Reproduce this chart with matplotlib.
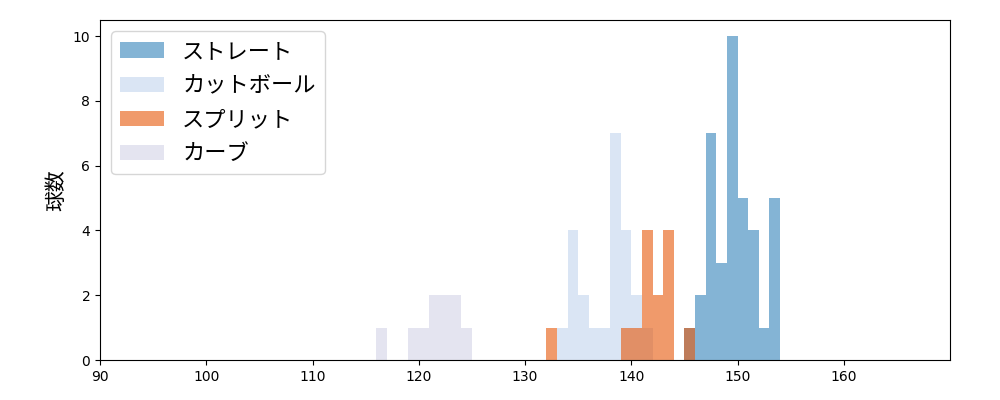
import matplotlib
matplotlib.use('Agg')
import matplotlib.pyplot as plt

plt.rcParams['font.family'] = ['DejaVu Sans', 'Noto Sans CJK JP']

# 球種ごとの球速ヒストグラム (ビン開始値, 球数)
straight_bins = [145, 146, 147, 148, 149, 150, 151, 152, 153]
straight_counts = [1, 2, 7, 3, 10, 5, 4, 1, 5]
cutter_bins = [133, 134, 135, 136, 137, 138, 139, 140, 141]
cutter_counts = [1, 4, 2, 1, 1, 7, 4, 2, 1]
split_bins = [132, 139, 140, 141, 142, 143, 145]
split_counts = [1, 1, 1, 4, 2, 4, 1]
curve_bins = [116, 119, 120, 121, 122, 123, 124]
curve_counts = [1, 1, 1, 2, 2, 2, 1]

labels = ['ストレート', 'カットボール', 'スプリット', 'カーブ']

fig, ax = plt.subplots(figsize=(10, 4), dpi=100)
ax.bar(straight_bins, straight_counts, width=1, align='edge', color='#1f77b4', alpha=0.55, label=labels[0])
ax.bar(cutter_bins, cutter_counts, width=1, align='edge', color='#aec7e8', alpha=0.45, label=labels[1])
ax.bar(split_bins, split_counts, width=1, align='edge', color='#e65708', alpha=0.6, label=labels[2])
ax.bar(curve_bins, curve_counts, width=1, align='edge', color='#c5c5df', alpha=0.45, label=labels[3])

ax.set_xlim(90, 170)
ax.set_xticks(range(90, 170, 10))
ax.set_ylim(0, 10.5)
ax.set_yticks(range(0, 11, 2))
ax.set_ylabel('球数', fontsize=15, family=['Noto Sans CJK JP'])
ax.legend(loc='upper left', prop={'family': ['Noto Sans CJK JP'], 'size': 16})
plt.subplots_adjust(left=0.1, right=0.95, top=0.95, bottom=0.1)
plt.savefig('out.png')
